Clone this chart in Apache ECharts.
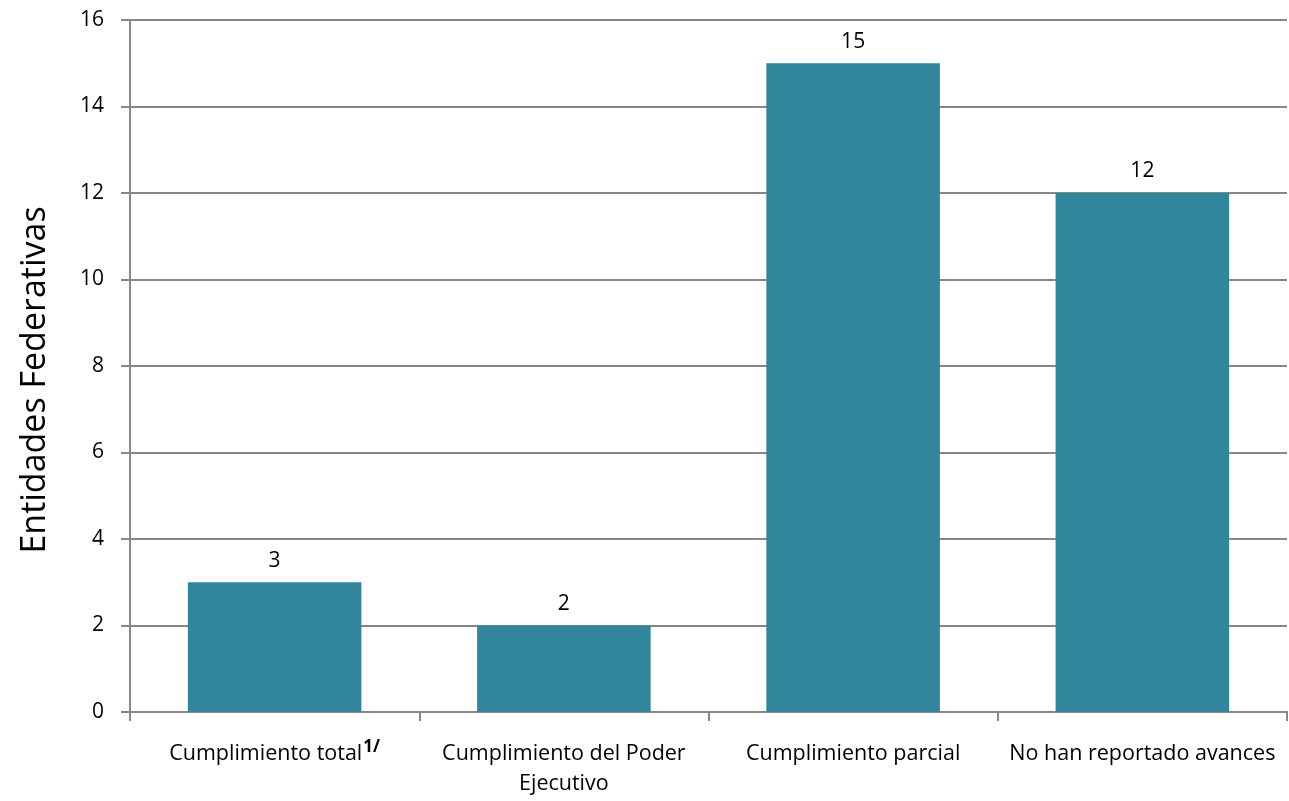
<!DOCTYPE html>
<html><head><meta charset="utf-8">
<script src="https://cdn.jsdelivr.net/npm/echarts@6/dist/echarts.min.js"></script>
<style>html,body{margin:0;padding:0;background:#fff}#c{width:1289px;height:801px}</style>
</head><body><div id="c"></div>
<script>
const categories = ['Cumplimiento total{sup|1/}', 'Cumplimiento del Poder\nEjecutivo', 'Cumplimiento parcial', 'No han reportado avances'];
const values = [3, 2, 15, 12];
const yTicks = { min: 0, max: 16, interval: 2 };
const yTitle = 'Entidades Federativas';

const chart = echarts.init(document.getElementById('c'), null, { renderer: 'canvas' });
const font = 'Open Sans, Liberation Sans, sans-serif';
chart.setOption({
  backgroundColor: '#fff',
  animation: false,
  grid: { left: 130, right: 2, top: 20, bottom: 89, containLabel: false },
  xAxis: {
    type: 'category', data: categories,
    axisLine: { lineStyle: { color: '#868686', width: 2 } },
    axisTick: { show: true, length: 9, lineStyle: { color: '#868686', width: 2 }, alignWithLabel: false },
    axisLabel: {
      interval: 0, margin: 27, color: '#000', fontFamily: font, fontSize: 21.5, lineHeight: 30,
      rich: { sup: { fontSize: 17, fontWeight: 'bold', verticalAlign: 'top', padding: [0, 0, 14, 1], fontFamily: font, color: '#000' } }
    }
  },
  yAxis: {
    type: 'value', min: yTicks.min, max: yTicks.max, interval: yTicks.interval,
    name: yTitle, nameLocation: 'middle', nameGap: 78, nameRotate: 90,
    nameTextStyle: { fontFamily: font, fontSize: 34, color: '#000', padding: [0, 28, 0, 0] },
    axisLine: { show: true, lineStyle: { color: '#868686', width: 2 } },
    axisTick: { show: true, length: 9, lineStyle: { color: '#868686', width: 2 } },
    axisLabel: { margin: 26, color: '#000', fontFamily: font, fontSize: 21 },
    splitLine: { lineStyle: { color: '#868686', width: 2 } }
  },
  series: [{
    type: 'bar', data: values, barCategoryGap: '40%',
    itemStyle: { color: '#31869B' },
    label: { show: true, position: 'top', distance: 11, color: '#000', fontFamily: font, fontSize: 21 }
  }]
});
</script></body></html>
